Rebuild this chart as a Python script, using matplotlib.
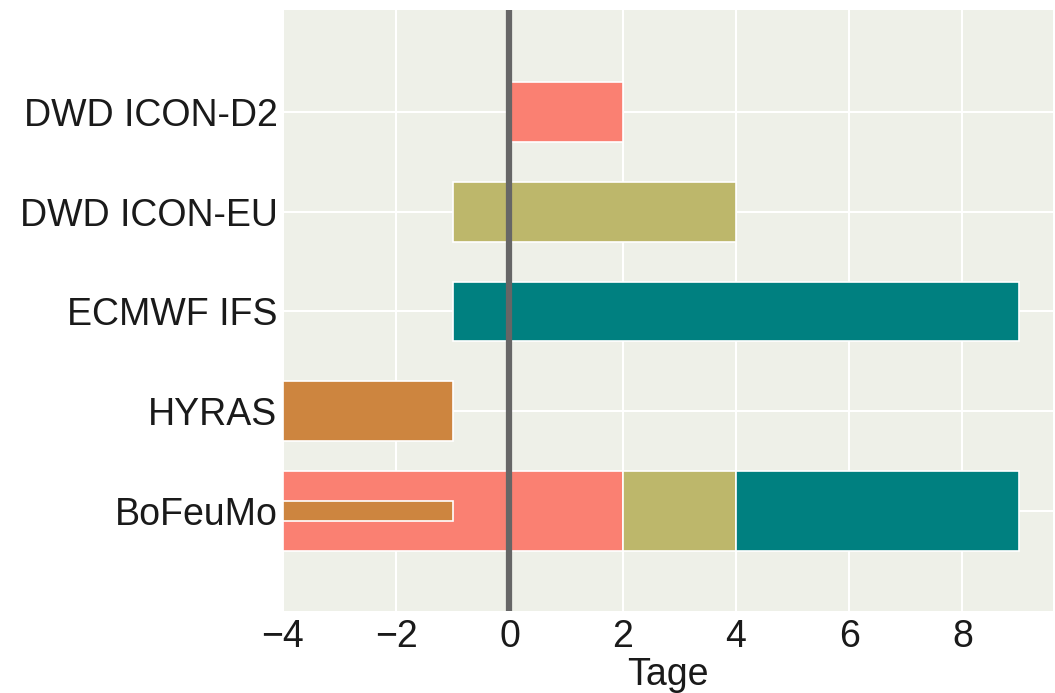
import matplotlib
matplotlib.use("Agg")
import matplotlib.pyplot as plt

plt.rcParams['font.family'] = ['Liberation Sans', 'DejaVu Sans']

categories = ["BoFeuMo", "HYRAS", "ECMWF IFS", "DWD ICON-EU", "DWD ICON-D2"]
segments_cat = ["DWD ICON-D2", "DWD ICON-EU", "ECMWF IFS", "HYRAS",
                "BoFeuMo", "BoFeuMo", "BoFeuMo", "BoFeuMo"]
segments_start = [0, -1, -1, -4, -4, 2, 4, -4]
segments_end = [2, 4, 9, -1, 2, 4, 9, -1]
segments_color = ["#FA8072", "#BDB76B", "#008080", "#CD853F",
                  "#FA8072", "#BDB76B", "#008080", "#CD853F"]
segments_height = [0.6, 0.6, 0.6, 0.6, 0.8, 0.8, 0.8, 0.2]
xticks = [-4, -2, 0, 2, 4, 6, 8]

fig = plt.figure(figsize=(10.55, 6.93), dpi=100)
ax = fig.add_axes([0.2682, 0.1183, 0.7300, 0.8673])
ax.set_facecolor("#EEF0E8")
for s in ax.spines.values():
    s.set_visible(False)

ypos = {c: i for i, c in enumerate(categories)}
ax.set_axisbelow(True)
ax.grid(True, color="white", linewidth=1.5)

for c, s, e, col, h in zip(segments_cat, segments_start, segments_end,
                           segments_color, segments_height):
    ax.barh(ypos[c], e - s, left=s, height=h, color=col,
            edgecolor="white", linewidth=1.2, zorder=2)

ax.axvline(0, color="#666666", linewidth=4.5, zorder=3)

ax.set_yticks(range(len(categories)))
ax.set_yticklabels(categories)
ax.set_xticks(xticks)
ax.set_xticklabels([f"{t}".replace("-", "\u2212") for t in xticks])
ax.set_xlim(-4, 9.6)
ax.set_ylim(-1, 5.02)
ax.tick_params(axis="x", length=0, labelsize=27, colors="#1a1a1a", pad=6)
ax.tick_params(axis="y", length=0, labelsize=27, colors="#1a1a1a", pad=4)
ax.set_xlabel("Tage", fontsize=27, color="#1a1a1a", labelpad=1)

fig.savefig("out.png", dpi=100)
